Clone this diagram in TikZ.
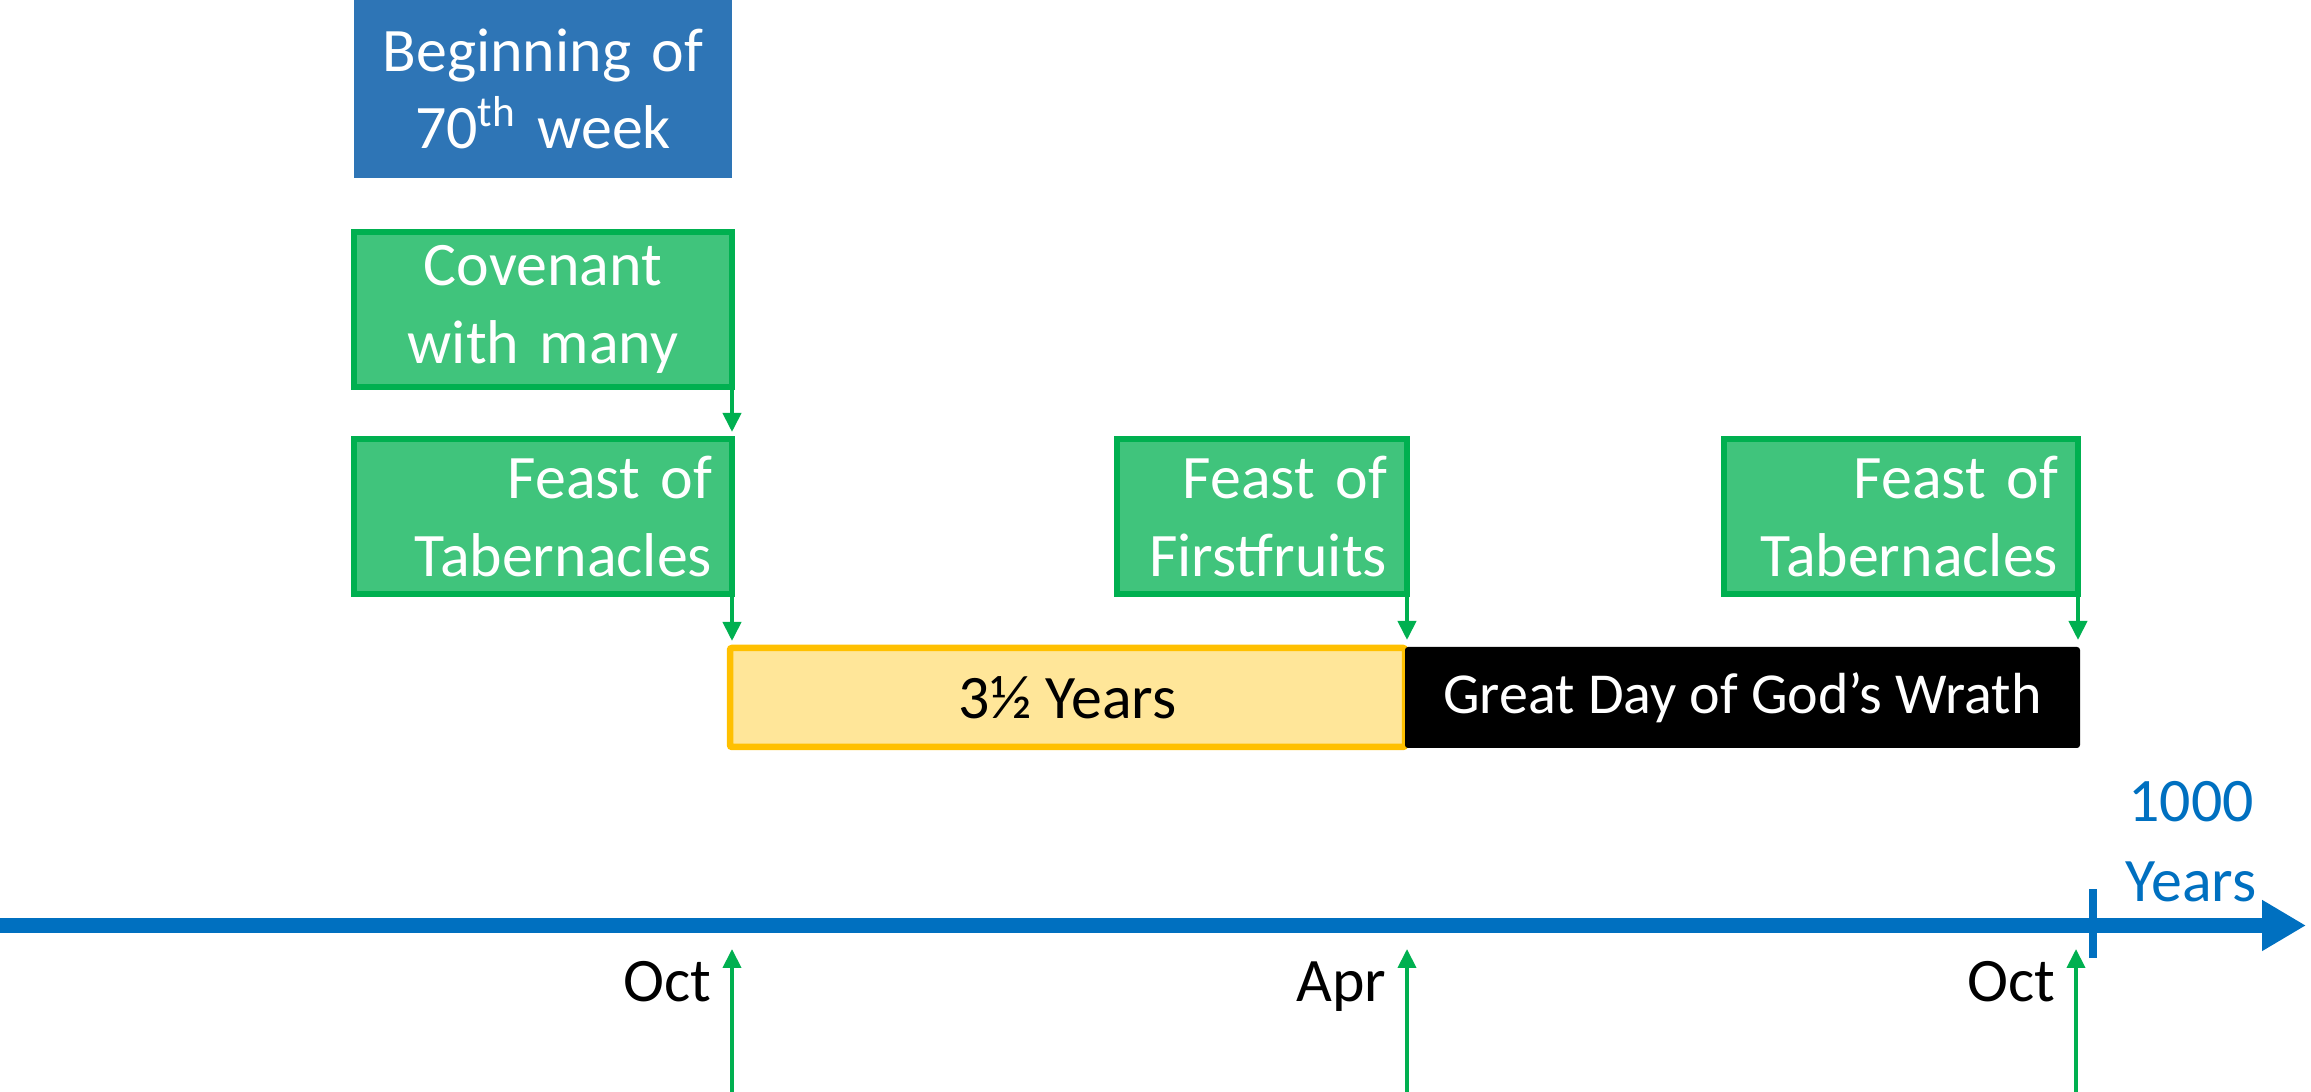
\documentclass[tikz,border=0pt]{standalone}
\usepackage{fontspec}
\setmainfont{Carlito}
\usepackage{tikz}
\usetikzlibrary{arrows.meta, positioning, calc}
\definecolor{weekblue}{RGB}{46, 117, 182}
\definecolor{feastgreen}{RGB}{0, 176, 80}
\definecolor{feastfill}{RGB}{64, 196, 124}
\definecolor{halfborder}{RGB}{255, 192, 0}
\definecolor{halffill}{RGB}{255, 230, 153}
\definecolor{lineblue}{RGB}{0, 112, 192}
\tikzstyle{weekbox} = [rectangle, minimum width=3.78cm, minimum height=1.78cm, inner xsep=0.2cm, text width=3.38cm, align=center, fill=weekblue, text=white, font=\fontsize{17.6}{22}\selectfont]
\tikzstyle{feastbox} = [rectangle, minimum height=1.55cm, inner xsep=0.2cm, outer sep=0pt, draw=feastgreen, line width=0.06cm, fill=feastfill, text=white, align=right, font=\fontsize{17.6}{22}\selectfont]
\tikzstyle{halfbar} = [rectangle, rounded corners=0.02cm, minimum width=6.75cm, minimum height=0.99cm, outer sep=0pt, draw=halfborder, line width=0.065cm, fill=halffill, font=\fontsize{17.6}{22}\selectfont]
\tikzstyle{wrathbar} = [rectangle, rounded corners=0.03cm, minimum width=6.75cm, minimum height=1.01cm, outer sep=0pt, fill=black, text=white, font=\fontsize{16.5}{20}\selectfont]
\tikzstyle{month} = [inner sep=0pt, anchor=base east, font=\fontsize{17.6}{22}\selectfont]
\tikzstyle{yearlbl} = [align=center, text=lineblue, font=\fontsize{17.6}{22.7}\selectfont]
\tikzstyle{greenarrow} = [line width=0.04cm, draw=feastgreen, -{Triangle[length=0.19cm, width=0.18cm]}]
\tikzstyle{timeline} = [line width=0.15cm, draw=lineblue, -{Triangle[length=0.44cm, width=0.48cm]}]
\tikzstyle{millmark} = [line width=0.08cm, draw=lineblue]

\begin{document}
\begin{tikzpicture}[node distance=2cm]
\useasboundingbox (0,0) rectangle (23.11,10.92);

% Week and feast boxes
\node (beginwk) [weekbox] at (5.43,10.03) {Beginning of\\70\textsuperscript{th} week};
\node (covenant) [feastbox, minimum width=3.78cm, text width=3.38cm, align=center, below of=beginwk, yshift=-0.205cm] {Covenant\\with many};
\node (tabA) [feastbox, minimum width=3.78cm, text width=3.38cm, below of=covenant, yshift=-0.07cm] {Feast of\\Tabernacles};
\node (firstfr) [feastbox, minimum width=2.9cm, text width=2.5cm, right of=tabA, xshift=5.19cm] {Feast of\\Firstfruits};
\node (tabB) [feastbox, minimum width=3.54cm, text width=3.14cm, right of=firstfr, xshift=4.39cm] {Feast of\\Tabernacles};

% Periods
\node (halfyrs) [halfbar, below of=tabA, xshift=5.245cm, yshift=0.19cm] {3½ Years};
\node (wrath) [wrathbar, right of=halfyrs, xshift=4.75cm] {Great Day of God’s Wrath};

% Feast arrows
\draw [greenarrow, shorten >=0.07cm] (covenant.south east) -- (tabA.north east);
\draw [greenarrow, shorten >=0.07cm] (tabA.south east) -- (tabA.south east |- halfyrs.north);
\draw [greenarrow, shorten >=0.07cm] (firstfr.south east) -- (firstfr.south east |- wrath.north);
\draw [greenarrow, shorten >=0.07cm] (tabB.south east) -- (tabB.south east |- wrath.north);

% Time line
\coordinate (tlstart) at (0,1.665);
\coordinate (tlend) at (23.06,1.665);
\coordinate (millpt) at (20.93,1.665);
\draw [timeline] (tlstart) -- (tlend);
\draw [millmark] ($(millpt)+(0,0.36)$) -- ($(millpt)+(0,-0.33)$);
\node (millyrs) [yearlbl] at (21.91,2.50) {1000\\Years};

% Months
\coordinate (octAfoot) at (7.32,0);
\coordinate (octAtip) at (7.32,1.43);
\coordinate (aprfoot) at (14.07,0);
\coordinate (aprtip) at (14.07,1.43);
\coordinate (octBfoot) at (20.76,0);
\coordinate (octBtip) at (20.76,1.43);
\draw [greenarrow] (octAfoot) -- (octAtip);
\draw [greenarrow] (aprfoot) -- (aprtip);
\draw [greenarrow] (octBfoot) -- (octBtip);
\node (octAlbl) [month] at ($(octAtip)+(-0.2,-0.53)$) {Oct};
\node (aprlbl) [month] at ($(aprtip)+(-0.2,-0.53)$) {Apr};
\node (octBlbl) [month] at ($(octBtip)+(-0.2,-0.53)$) {Oct};

\end{tikzpicture}
\end{document}
